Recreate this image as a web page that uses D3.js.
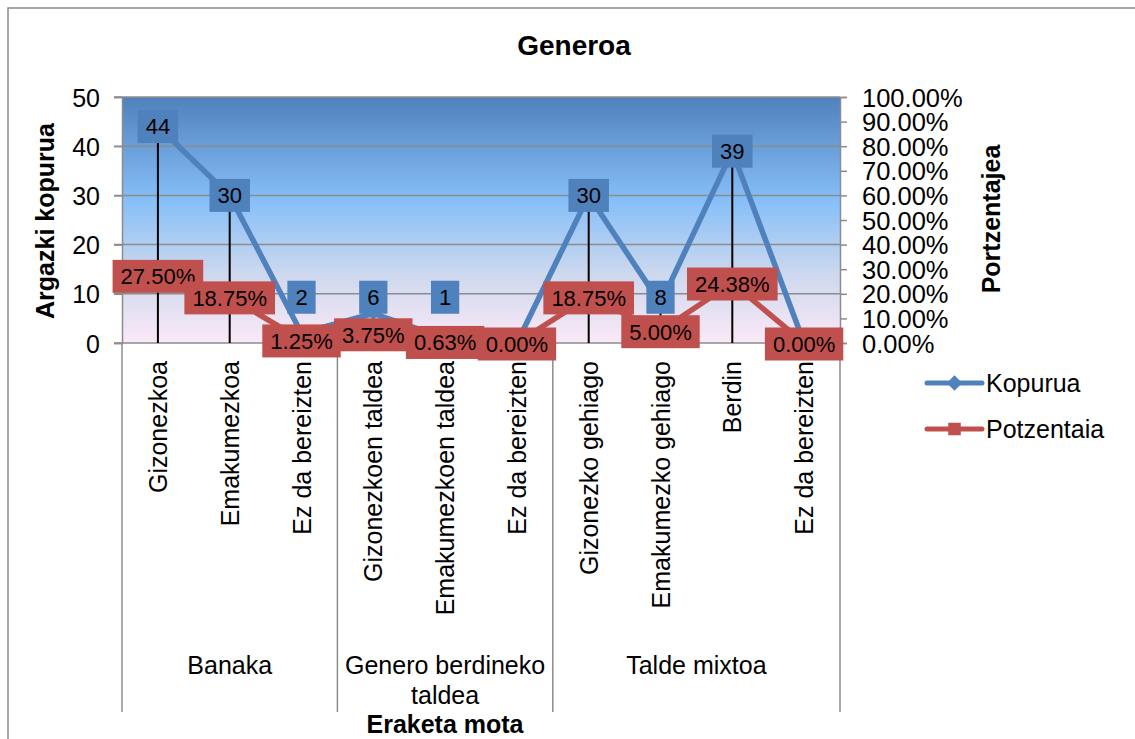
<!DOCTYPE html>
<html>
<head>
<meta charset="utf-8">
<script src="https://cdn.jsdelivr.net/npm/d3@7"></script>
<style>
  body { margin: 0; background: #fff; }
  text { font-family: "Liberation Sans", Arial, sans-serif; fill: #000; }
</style>
</head>
<body>
<svg id="chart" width="1135" height="739"></svg>
<script>
// Data
var categories = ["Gizonezkoa", "Emakumezkoa", "Ez da bereizten",
    "Gizonezkoen taldea", "Emakumezkoen taldea", "Ez da bereizten",
    "Gizonezko gehiago", "Emakumezko gehiago", "Berdin", "Ez da bereizten"];
var groupNames = [["Banaka"], ["Genero berdineko", "taldea"], ["Talde mixtoa"]];
var groupSizes = [3, 3, 4];
var kopurua = [44, 30, 2, 6, 1, 0, 30, 8, 39, 0];
var potzentaia = [27.50, 18.75, 1.25, 3.75, 0.63, 0.00, 18.75, 5.00, 24.38, 0.00];
var leftTicks = [0, 10, 20, 30, 40, 50];
var rightTicks = [0, 10, 20, 30, 40, 50, 60, 70, 80, 90, 100];
var seriesNames = ["Kopurua", "Potzentaia"];

var blue = "#4F81BD", red = "#C0504D", grey = "#8C8C8C";

var svg = d3.select("#chart");

// chart border (runs off the right and bottom of the picture)
svg.append("rect")
    .attr("x", 8).attr("y", 8)
    .attr("width", 1140).attr("height", 760)
    .attr("fill", "#fff")
    .attr("stroke", grey)
    .attr("stroke-width", 1.5);

// plot area
var plotL = 122, plotR = 840, plotT = 97, plotB = 343;

var x = d3.scaleBand()
    .domain(d3.range(categories.length))
    .range([plotL, plotR]);
var cx = function (i) { return x(i) + x.bandwidth() / 2; };

var yL = d3.scaleLinear().domain([0, 50]).range([plotB, plotT]);
var yR = d3.scaleLinear().domain([0, 100]).range([plotB, plotT]);

// gradient background
var defs = svg.append("defs");
var grad = defs.append("linearGradient")
    .attr("id", "bg").attr("x1", 0).attr("y1", 0).attr("x2", 0).attr("y2", 1);
grad.append("stop").attr("offset", "0%").attr("stop-color", "#4F81BD");
grad.append("stop").attr("offset", "42%").attr("stop-color", "#86BFF8");
grad.append("stop").attr("offset", "72%").attr("stop-color", "#CDD8EE");
grad.append("stop").attr("offset", "100%").attr("stop-color", "#FBE9F7");

svg.append("rect")
    .attr("x", plotL).attr("y", plotT)
    .attr("width", plotR - plotL).attr("height", plotB - plotT)
    .attr("fill", "url(#bg)");

// gridlines
svg.append("g")
    .selectAll("line")
    .data(leftTicks)
    .enter()
    .append("line")
    .attr("x1", plotL - 8).attr("x2", plotR)
    .attr("y1", function (d) { return yL(d); })
    .attr("y2", function (d) { return yL(d); })
    .attr("stroke", grey)
    .attr("stroke-width", 1.5);

// left axis
var gL = svg.append("g")
    .attr("transform", "translate(" + plotL + ",0)")
    .call(d3.axisLeft(yL).tickValues(leftTicks).tickSize(8).tickPadding(14));
gL.select(".domain").attr("stroke", grey).attr("stroke-width", 1.5);
gL.selectAll(".tick line").attr("stroke", grey).attr("stroke-width", 1.5);
gL.selectAll(".tick text").attr("font-size", "25px").attr("font-family", "Liberation Sans, Arial, sans-serif").attr("fill", "#000").attr("dy", "0.36em");

// right axis
var gR = svg.append("g")
    .attr("transform", "translate(" + plotR + ",0)")
    .call(d3.axisRight(yR).tickValues(rightTicks).tickSize(7).tickPadding(15)
        .tickFormat(function (d) { return d.toFixed(2) + "%"; }));
gR.select(".domain").attr("stroke", grey).attr("stroke-width", 1.5);
gR.selectAll(".tick line").attr("stroke", grey).attr("stroke-width", 1.5);
gR.selectAll(".tick text").attr("font-size", "25.5px").attr("font-family", "Liberation Sans, Arial, sans-serif").attr("fill", "#000").attr("dy", "0.36em");

// group divider lines under the axis
var edges = [0];
groupSizes.forEach(function (n, i) { edges.push(edges[i] + n); });
var edgeX = function (k) { return k < categories.length ? x(k) : plotR; };
svg.append("g")
    .selectAll("line")
    .data(edges)
    .enter()
    .append("line")
    .attr("x1", edgeX)
    .attr("x2", edgeX)
    .attr("y1", plotB).attr("y2", 712)
    .attr("stroke", grey)
    .attr("stroke-width", 1.5);

// category labels (rotated)
svg.append("g")
    .selectAll("text")
    .data(categories)
    .enter()
    .append("text")
    .attr("transform", function (d, i) { return "translate(" + cx(i) + ",361) rotate(-90)"; })
    .attr("text-anchor", "end")
    .attr("dy", "0.36em")
    .attr("font-size", "25px")
    .text(function (d) { return d; });

// group labels
var groupText = svg.append("g")
    .selectAll("text")
    .data(groupNames)
    .enter()
    .append("text")
    .attr("text-anchor", "middle")
    .attr("font-size", "25px")
    .attr("x", function (d, i) { return (edgeX(edges[i]) + edgeX(edges[i + 1])) / 2; })
    .attr("y", 674);
groupText.selectAll("tspan")
    .data(function (d) { return d; })
    .enter()
    .append("tspan")
    .attr("x", function () { return d3.select(this.parentNode).attr("x"); })
    .attr("dy", function (d, j) { return j === 0 ? 0 : 30; })
    .text(function (d) { return d; });

// drop lines
svg.append("g")
    .selectAll("line")
    .data(kopurua)
    .enter()
    .append("line")
    .attr("x1", function (d, i) { return cx(i); })
    .attr("x2", function (d, i) { return cx(i); })
    .attr("y1", function (d) { return yL(d); })
    .attr("y2", plotB)
    .attr("stroke", "#000")
    .attr("stroke-width", 2);

// lines
var lineL = d3.line().x(function (d, i) { return cx(i); }).y(function (d) { return yL(d); });
var lineR = d3.line().x(function (d, i) { return cx(i); }).y(function (d) { return yR(d); });

svg.append("path")
    .datum(kopurua)
    .attr("d", lineL)
    .attr("fill", "none")
    .attr("stroke", blue)
    .attr("stroke-width", 5.5)
    .attr("stroke-linejoin", "round");

svg.append("g")
    .selectAll("path")
    .data(kopurua)
    .enter()
    .append("path")
    .attr("d", d3.symbol().type(d3.symbolDiamond2).size(110))
    .attr("transform", function (d, i) { return "translate(" + cx(i) + "," + yL(d) + ")"; })
    .attr("fill", blue);

svg.append("path")
    .datum(potzentaia)
    .attr("d", lineR)
    .attr("fill", "none")
    .attr("stroke", red)
    .attr("stroke-width", 5.5)
    .attr("stroke-linejoin", "round");

svg.append("g")
    .selectAll("rect")
    .data(potzentaia)
    .enter()
    .append("rect")
    .attr("x", function (d, i) { return cx(i) - 6; })
    .attr("y", function (d) { return yR(d) - 6; })
    .attr("width", 12).attr("height", 12)
    .attr("fill", red);

// data labels
// count labels: small counts sit above the percentage labels; zeros have no label
var kopG = svg.append("g")
    .selectAll("g")
    .data(kopurua)
    .enter()
    .append("g")
    .style("display", function (d) { return d > 0 ? null : "none"; })
    .attr("transform", function (d, i) { return "translate(" + cx(i) + "," + yL(Math.max(d, 9.3)) + ")"; });
kopG.append("text")
    .attr("text-anchor", "middle")
    .attr("dy", "0.36em")
    .attr("font-size", "22px")
    .text(function (d) { return d; });

var potG = svg.append("g")
    .selectAll("g")
    .data(potzentaia)
    .enter()
    .append("g")
    .attr("transform", function (d, i) { return "translate(" + cx(i) + "," + (yR(d) + 1) + ")"; });
potG.append("text")
    .attr("text-anchor", "middle")
    .attr("dy", "0.36em")
    .attr("font-size", "22px")
    .text(function (d) { return d.toFixed(2) + "%"; });

[[kopG, blue], [potG, red]].forEach(function (p) {
    p[0].each(function () {
        var w = d3.select(this).select("text").node().getComputedTextLength();
        d3.select(this).insert("rect", "text")
            .attr("x", -w / 2 - 8).attr("y", -16.5)
            .attr("width", w + 16).attr("height", 33)
            .attr("fill", p[1]);
    });
});

// titles
svg.append("text")
    .attr("x", 574).attr("y", 55)
    .attr("text-anchor", "middle")
    .attr("font-size", "28px")
    .attr("font-weight", "bold")
    .text("Generoa");

svg.append("text")
    .attr("transform", "translate(54,221) rotate(-90)")
    .attr("text-anchor", "middle")
    .attr("font-size", "25px")
    .attr("font-weight", "bold")
    .text("Argazki kopurua");

svg.append("text")
    .attr("transform", "translate(1000,219) rotate(-90)")
    .attr("text-anchor", "middle")
    .attr("font-size", "25px")
    .attr("font-weight", "bold")
    .text("Portzentajea");

svg.append("text")
    .attr("x", 445).attr("y", 733)
    .attr("text-anchor", "middle")
    .attr("font-size", "25px")
    .attr("font-weight", "bold")
    .text("Eraketa mota");

// legend
var legend = svg.append("g")
    .selectAll("g")
    .data(seriesNames)
    .enter()
    .append("g")
    .attr("transform", function (d, i) { return "translate(927," + (383 + i * 46) + ")"; });
legend.append("line")
    .attr("x1", 0).attr("x2", 55)
    .attr("stroke", function (d, i) { return i === 0 ? blue : red; })
    .attr("stroke-width", 5)
    .attr("stroke-linecap", "round");
legend.append("path")
    .attr("d", function (d, i) {
        return d3.symbol().type(i === 0 ? d3.symbolDiamond2 : d3.symbolSquare2).size(i === 0 ? 150 : 200)();
    })
    .attr("transform", "translate(27.5,0)")
    .attr("fill", function (d, i) { return i === 0 ? blue : red; });
legend.append("text")
    .attr("x", 59).attr("dy", "0.36em")
    .attr("font-size", "25px")
    .text(function (d) { return d; });
</script>
</body>
</html>
